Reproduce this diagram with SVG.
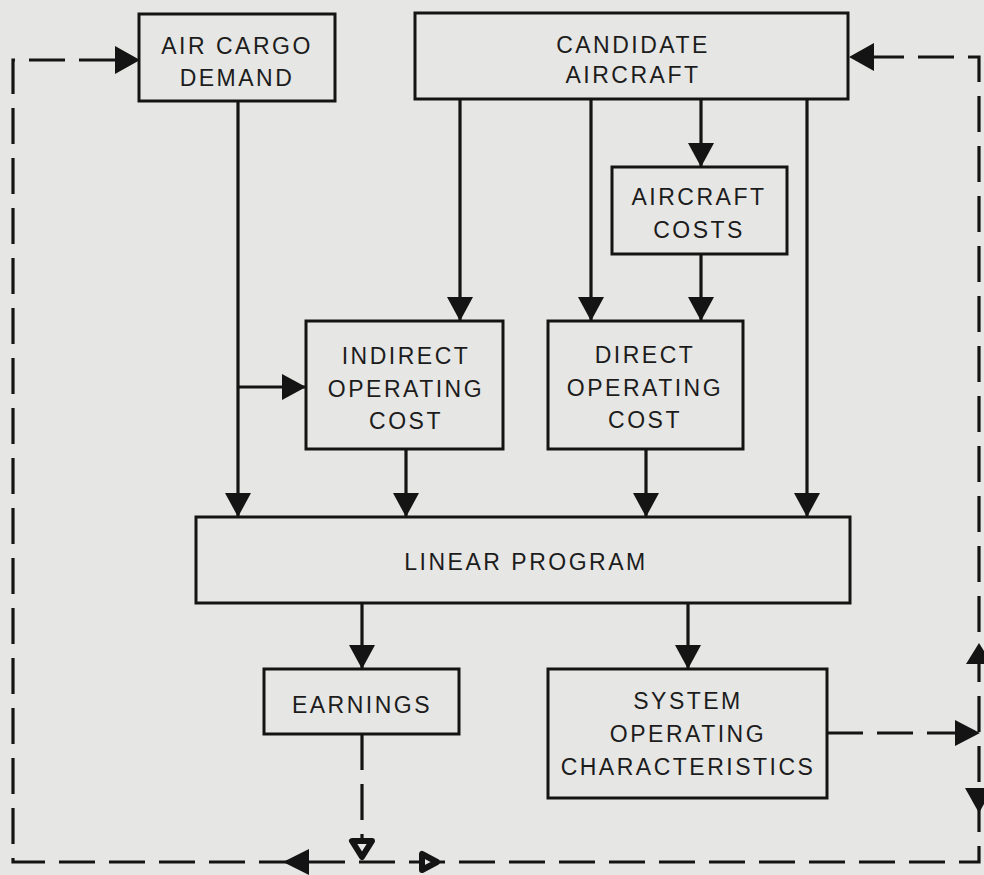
<svg xmlns="http://www.w3.org/2000/svg" width="984" height="875" viewBox="0 0 984 875">
<defs>
<style>
.box{fill:none;stroke:#141414;stroke-width:3}
.ln{fill:none;stroke:#141414;stroke-width:3.2}
.dash{fill:none;stroke:#141414;stroke-width:3.2;stroke-dasharray:36 14}
.ah{fill:#141414}
.oh{fill:#e6e6e4;stroke:#141414;stroke-width:6;stroke-linejoin:round}
text{font-family:"Liberation Sans",Arial,sans-serif;font-size:23px;fill:#1c1c1c;text-anchor:middle;letter-spacing:2.5px}
</style>
<marker id="arr" markerUnits="userSpaceOnUse" markerWidth="26" markerHeight="26" refX="24" refY="13" orient="auto" viewBox="0 0 26 26">
<path d="M0,0 L24,13 L0,26 z" fill="#141414"/>
</marker>
</defs>
<rect x="0" y="0" width="984" height="875" fill="#e6e6e4"/>

<g id="connectors">
<path class="ln" d="M238,101 V517" marker-end="url(#arr)"/>
<path class="ln" d="M238,387 H306" marker-end="url(#arr)"/>
<path class="ln" d="M460,99 V321" marker-end="url(#arr)"/>
<path class="ln" d="M591,99 V321" marker-end="url(#arr)"/>
<path class="ln" d="M701,99 V167" marker-end="url(#arr)"/>
<path class="ln" d="M701,254 V321" marker-end="url(#arr)"/>
<path class="ln" d="M807,99 V517" marker-end="url(#arr)"/>
<path class="ln" d="M406,449 V517" marker-end="url(#arr)"/>
<path class="ln" d="M646,449 V517" marker-end="url(#arr)"/>
<path class="ln" d="M362,604 V669" marker-end="url(#arr)"/>
<path class="ln" d="M688,604 V669" marker-end="url(#arr)"/>

<path class="dash" d="M362,734 V838"/>
<polygon class="oh" points="352,841 372,841 362,857"/>
<path class="dash" d="M827,733 H957"/>
<polygon class="ah" points="955,720 980,733 955,746"/>
<path class="dash" d="M115,60 H13 V862 H979 V57 H873"/>
<polygon class="ah" points="115,46 140,60 115,74"/>
<polygon class="ah" points="874,43 849,57 874,71"/>
<polygon class="ah" points="309,849 283,862 309,875"/>
<polygon class="oh" points="422,854 422,870 437,862"/>
<polygon class="ah" points="966,664 979,643 992,664"/>
<polygon class="ah" points="965,788 979,813 993,788"/>
</g>

<g id="air-cargo-demand">
<rect class="box" x="139" y="14" width="196" height="87"/>
<text x="237" y="54">AIR CARGO</text>
<text x="237" y="86">DEMAND</text>
</g>
<g id="candidate-aircraft">
<rect class="box" x="415" y="13" width="433" height="86"/>
<text x="633" y="53">CANDIDATE</text>
<text x="633" y="83">AIRCRAFT</text>
</g>
<g id="aircraft-costs">
<rect class="box" x="612" y="167" width="175" height="87"/>
<text x="699" y="205">AIRCRAFT</text>
<text x="699" y="238">COSTS</text>
</g>
<g id="indirect-operating-cost">
<rect class="box" x="306" y="321" width="197" height="128"/>
<text x="406" y="364">INDIRECT</text>
<text x="406" y="397">OPERATING</text>
<text x="406" y="429">COST</text>
</g>
<g id="direct-operating-cost">
<rect class="box" x="548" y="321" width="195" height="128"/>
<text x="645" y="363">DIRECT</text>
<text x="645" y="396">OPERATING</text>
<text x="645" y="428">COST</text>
</g>
<g id="linear-program">
<rect class="box" x="196" y="517" width="654" height="86"/>
<text x="526" y="570">LINEAR PROGRAM</text>
</g>
<g id="earnings">
<rect class="box" x="264" y="669" width="195" height="65"/>
<text x="362" y="713">EARNINGS</text>
</g>
<g id="system-operating-characteristics">
<rect class="box" x="548" y="669" width="279" height="129"/>
<text x="688" y="709">SYSTEM</text>
<text x="688" y="742">OPERATING</text>
<text x="688" y="775">CHARACTERISTICS</text>
</g>
</svg>
